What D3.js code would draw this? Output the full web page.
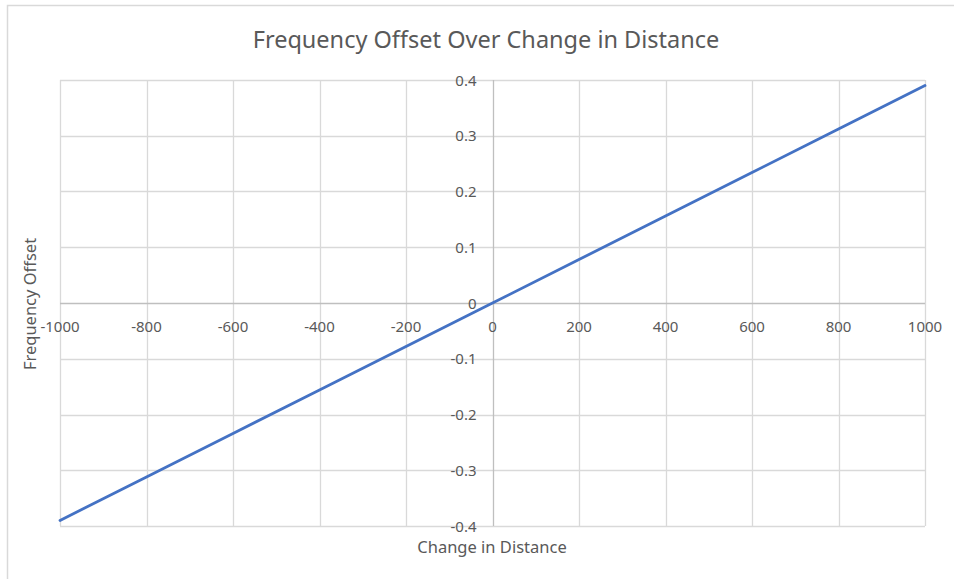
<!DOCTYPE html>
<html>
<head>
<meta charset="utf-8">
<script src="https://cdn.jsdelivr.net/npm/d3@7"></script>
<style>
  html, body { margin: 0; padding: 0; background: #fff; }
  svg { display: block; }
  text { font-family: "Noto Sans", "Open Sans", sans-serif; fill: #595959; }
</style>
</head>
<body>
<svg id="chart" width="954" height="579"></svg>
<script>
// ---- data ----
const distance = [-1000, -800, -600, -400, -200, 0, 200, 400, 600, 800, 1000];
const offset   = [-0.39, -0.312, -0.234, -0.156, -0.078, 0, 0.078, 0.156, 0.234, 0.312, 0.39];
const xTicks = [-1000, -800, -600, -400, -200, 0, 200, 400, 600, 800, 1000];
const yTicks = [-0.4, -0.3, -0.2, -0.1, 0, 0.1, 0.2, 0.3, 0.4];
const titleText = "Frequency Offset Over Change in Distance";
const xTitle = "Change in Distance";
const yTitle = "Frequency Offset";

// ---- layout ----
const svg = d3.select("#chart");
const plot = { left: 60, right: 925, top: 80, bottom: 526 };

const x = d3.scaleLinear().domain([-1000, 1000]).range([plot.left, plot.right]);
const y = d3.scaleLinear().domain([-0.4, 0.4]).range([plot.bottom, plot.top]);

// outer chart border (only left/top visible in frame)
svg.append("rect")
  .attr("x", 7.5).attr("y", 5.5)
  .attr("width", 2000).attr("height", 2000)
  .attr("fill", "none").attr("stroke", "#d9d9d9").attr("stroke-width", 1.5);

// gridlines
const grid = svg.append("g");
grid.selectAll("line.v").data(xTicks.filter(d => d !== 0)).join("line")
  .attr("x1", d => Math.round(x(d)) + 0.5).attr("x2", d => Math.round(x(d)) + 0.5)
  .attr("y1", plot.top).attr("y2", plot.bottom)
  .attr("stroke", "#d9d9d9").attr("stroke-width", 1.3);
grid.selectAll("line.h").data(yTicks.filter(d => d !== 0)).join("line")
  .attr("y1", d => Math.round(y(d)) + 0.5).attr("y2", d => Math.round(y(d)) + 0.5)
  .attr("x1", plot.left).attr("x2", plot.right)
  .attr("stroke", "#d9d9d9").attr("stroke-width", 1.3);

// zero axes
svg.append("line")
  .attr("x1", plot.left).attr("x2", plot.right)
  .attr("y1", Math.round(y(0)) + 0.5).attr("y2", Math.round(y(0)) + 0.5)
  .attr("stroke", "#bfbfbf").attr("stroke-width", 1.3);
svg.append("line")
  .attr("x1", Math.round(x(0)) + 0.5).attr("x2", Math.round(x(0)) + 0.5)
  .attr("y1", plot.top).attr("y2", plot.bottom)
  .attr("stroke", "#bfbfbf").attr("stroke-width", 1.3);

// tick labels
svg.append("g").selectAll("text").data(yTicks).join("text")
  .attr("x", x(0) - 16)
  .attr("y", d => y(d) + 5.5)
  .attr("text-anchor", "end")
  .attr("font-size", 15)
  .text(d => String(d));

svg.append("g").selectAll("text").data(xTicks).join("text")
  .attr("x", d => x(d))
  .attr("y", y(0) + 29)
  .attr("text-anchor", "middle")
  .attr("font-size", 15)
  .text(d => String(d));

// line
svg.append("path")
  .datum(distance.map((d, i) => [d, offset[i]]))
  .attr("fill", "none")
  .attr("stroke", "#4472c4")
  .attr("stroke-width", 2.8)
  .attr("stroke-linecap", "round")
  .attr("d", d3.line().x(d => x(d[0])).y(d => y(d[1])));

// titles
svg.append("text")
  .attr("x", 486).attr("y", 48)
  .attr("text-anchor", "middle")
  .attr("font-size", 23.5)
  .text(titleText);

svg.append("text")
  .attr("x", 492).attr("y", 553)
  .attr("text-anchor", "middle")
  .attr("font-size", 16.5)
  .text(xTitle);

svg.append("text")
  .attr("transform", "translate(36,304) rotate(-90)")
  .attr("text-anchor", "middle")
  .attr("font-size", 16.5)
  .text(yTitle);
</script>
</body>
</html>
